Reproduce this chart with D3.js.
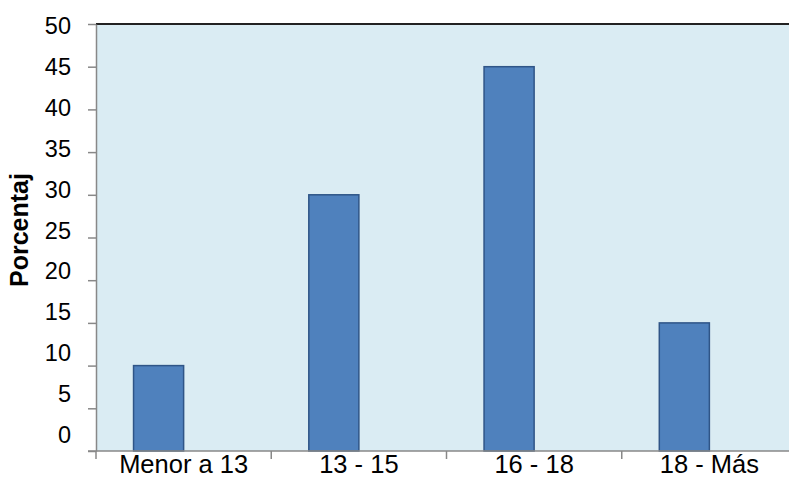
<!DOCTYPE html>
<html>
<head>
<meta charset="utf-8">
<script src="https://cdn.jsdelivr.net/npm/d3@7"></script>
<style>
  body { margin: 0; background: #fff; }
  text { font-family: Arial, "Liberation Sans", sans-serif; fill: #000; }
</style>
</head>
<body>
<svg id="chart" width="789" height="478"></svg>
<script>
// data
var categories = ["Menor a 13", "13 - 15", "16 - 18", "18 - Más"],
    values = [10, 30, 45, 15],
    yTicks = [0, 5, 10, 15, 20, 25, 30, 35, 40, 45, 50],
    yTitle = "Porcentaj";

var svg = d3.select("#chart"),
    plotL = 96, plotR = 797, plotT = 24, plotB = 451;

var x = d3.scaleBand().domain(categories).range([plotL, plotR]).padding(0);
var y = d3.scaleLinear().domain([0, 50]).range([plotB, plotT]);
// tick labels sit a bit tighter than the ticks in the original
var yLab = d3.scaleLinear().domain([0, 50]).range([435, 26]);

// plot background
svg.append("rect")
    .attr("x", plotL).attr("y", plotT)
    .attr("width", plotR - plotL).attr("height", plotB - plotT)
    .attr("fill", "#DAECF3");

// bars: excel-like clustered layout, gap width 150%, 2 slots
var barW = x.bandwidth() / 3.5;
svg.selectAll(".bar")
    .data(values)
    .enter()
    .append("rect")
    .attr("class", "bar")
    .attr("x", function(d, i) { return x(categories[i]) + barW * 0.75; })
    .attr("y", function(d) { return y(d); })
    .attr("width", barW)
    .attr("height", function(d) { return y(0) - y(d); })
    .attr("fill", "#4F81BD")
    .attr("stroke", "#2F5587")
    .attr("stroke-width", 1.5);

// top border
svg.append("line")
    .attr("x1", plotL).attr("x2", plotR)
    .attr("y1", plotT).attr("y2", plotT)
    .attr("stroke", "#222").attr("stroke-width", 2);

// y axis ticks (no labels)
var gy = svg.append("g")
    .attr("transform", "translate(" + plotL + ",0)")
    .call(d3.axisLeft(y).tickValues(yTicks).tickSize(8).tickSizeOuter(0).tickFormat(""));
gy.selectAll("line, path").attr("stroke", "#888").attr("stroke-width", 1.5);

// y tick labels
var gyl = svg.append("g")
    .attr("transform", "translate(" + (plotL - 25) + ",0)")
    .call(d3.axisLeft(yLab).tickValues(yTicks).tickSize(0).tickPadding(0));
gyl.select(".domain").remove();
gyl.selectAll("text")
    .style("font-size", "23.5px")
    .attr("font-family", "Arial, 'Liberation Sans', sans-serif")
    .attr("fill", "#000");

// x axis: ticks at band boundaries
var gx = svg.append("g")
    .attr("transform", "translate(0," + plotB + ")");
gx.append("line")
    .attr("x1", plotL - 8).attr("x2", plotR)
    .attr("stroke", "#888").attr("stroke-width", 1.5);
gx.selectAll(".xtick")
    .data(categories.concat([null]))
    .enter()
    .append("line")
    .attr("class", "xtick")
    .attr("x1", function(d) { return d === null ? plotR : x(d); })
    .attr("x2", function(d) { return d === null ? plotR : x(d); })
    .attr("y1", 0).attr("y2", 8)
    .attr("stroke", "#888").attr("stroke-width", 1.5);
gx.selectAll(".xlab")
    .data(categories)
    .enter()
    .append("text")
    .attr("class", "xlab")
    .attr("x", function(d) { return x(d) + x.bandwidth() / 2; })
    .attr("y", 22)
    .attr("text-anchor", "middle")
    .style("font-size", "25.5px")
    .text(function(d) { return d; });

// y title
svg.append("text")
    .attr("transform", "translate(28,230) rotate(-90)")
    .attr("text-anchor", "middle")
    .style("font-size", "25px")
    .style("font-weight", "bold")
    .text(yTitle);
</script>
</body>
</html>
